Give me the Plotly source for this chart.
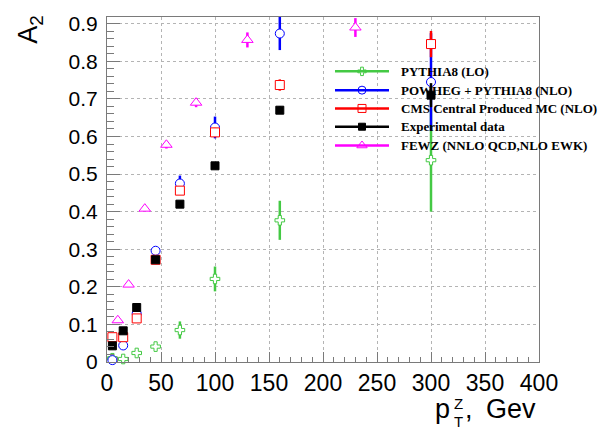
import plotly.graph_objects as go

# pT(Z) bin centres and A2 values per prediction / measurement
pt_bins = [5, 15, 27.5, 45, 67.5, 100, 160, 300]

pythia_a2 = [0.010, 0.008, 0.024, 0.041, 0.085, 0.221, 0.377, 0.537]
pythia_err = [0.003, 0.003, 0.004, 0.012, 0.023, 0.033, 0.052, 0.137]

powheg_a2 = [0.005, 0.044, 0.129, 0.296, 0.475, 0.624, 0.874, 0.745]
powheg_err = [0.003, 0.004, 0.006, 0.010, 0.021, 0.029, 0.044, 0.130]

cms_mc_a2 = [0.066, 0.066, 0.116, 0.272, 0.456, 0.611, 0.737, 0.846]
cms_mc_err = [0.003, 0.003, 0.004, 0.006, 0.010, 0.012, 0.015, 0.035]

data_a2 = [0.043, 0.083, 0.145, 0.272, 0.420, 0.522, 0.670, 0.710]
data_err = [0.003, 0.003, 0.004, 0.005, 0.007, 0.008, 0.010, 0.032]

fewz_pt = [10, 20, 35, 55, 82.5, 130, 230]
fewz_a2 = [0.111, 0.206, 0.408, 0.578, 0.690, 0.857, 0.890]
fewz_err = [0.003, 0.004, 0.005, 0.010, 0.012, 0.020, 0.025]

x_ticks = [0, 50, 100, 150, 200, 250, 300, 350, 400]
y_ticks = [0, 0.1, 0.2, 0.3, 0.4, 0.5, 0.6, 0.7, 0.8, 0.9]
y_ticktext = ["0", "0.1", "0.2", "0.3", "0.4", "0.5", "0.6", "0.7", "0.8", "0.9"]

legend_labels = [
    "PYTHIA8 (LO)",
    "POWHEG + PYTHIA8 (NLO)",
    "CMS Central Produced MC (NLO)",
    "Experimental data",
    "FEWZ (NNLO QCD,NLO EWK)",
]

# page geometry (pixels)
W, H = 601, 431
L, R, T, B = 107, 62, 13, 69
PW, PH = W - L - R, H - T - B

GREEN = "#44c944"
BLUE = "#0000ff"
RED = "#ff0000"
BLACK = "#000000"
MAGENTA = "#ff00ff"
FRAME = "#7a7a7a"
SANS = "Liberation Sans, Arial, Helvetica, sans-serif"
SERIF = "Liberation Serif, Times New Roman, serif"

# marker styles: hollow markers are drawn as white-filled outlines so the
# error bars stop at the marker edge
styles = [
    dict(color=GREEN, symbol="cross", open="cross-open", size=8, fill="white"),
    dict(color=BLUE, symbol="circle", open="circle-open", size=9, fill="white"),
    dict(color=RED, symbol="square", open="square-open", size=9, fill="white"),
    dict(color=BLACK, symbol="square", open="square", size=8, fill=BLACK),
    dict(color=MAGENTA, symbol="triangle-up", open="triangle-up-open", size=10,
         fill="white"),
]
series = [
    (pt_bins, pythia_a2, pythia_err),
    (pt_bins, powheg_a2, powheg_err),
    (pt_bins, cms_mc_a2, cms_mc_err),
    (pt_bins, data_a2, data_err),
    (fewz_pt, fewz_a2, fewz_err),
]


def px_x(p):
    return (p - L) / PW


def px_y(p):
    return (H - B - p) / PH


fig = go.Figure()

for (xs, ys, es), st in zip(series, styles):
    fig.add_trace(go.Scatter(
        x=xs, y=ys, mode="markers", showlegend=False, cliponaxis=False,
        error_y=dict(type="data", array=es, visible=True, width=0,
                     thickness=2.5, color=st["color"]),
        marker=dict(symbol=st["symbol"], size=st["size"], color=st["fill"],
                    line=dict(color=st["color"], width=1)),
    ))

# legend: line samples with markers on a pixel-unit overlay axis
leg_x0, leg_x1, leg_xm, leg_text_x = 335, 389, 362, 399
leg_rows = [68, 87, 105.5, 124, 143]
for lab, row, st in zip(legend_labels, leg_rows, styles):
    fig.add_trace(go.Scatter(
        x=[leg_x0, leg_x1], y=[row, row], mode="lines", xaxis="x2", yaxis="y2",
        showlegend=False, line=dict(color=st["color"], width=2.5),
        hoverinfo="skip",
    ))
    fig.add_trace(go.Scatter(
        x=[leg_xm], y=[row], mode="markers", xaxis="x2", yaxis="y2",
        showlegend=False, cliponaxis=False,
        marker=dict(symbol=st["open"], size=st["size"] - 1, color=st["color"],
                    line=dict(color=st["color"], width=1)),
        hoverinfo="skip",
    ))
    fig.add_annotation(
        x=px_x(leg_text_x), y=px_y(row), xref="paper", yref="paper",
        text=f"<b>{lab}</b>", showarrow=False, xanchor="left", yanchor="middle",
        font=dict(family=SERIF, size=13, color="black"),
    )

# white legend box above the grid, below the graphs
fig.add_shape(type="rect", xref="paper", yref="paper", layer="between",
              x0=px_x(330), x1=1.0, y0=px_y(155), y1=px_y(56),
              fillcolor="white", line=dict(width=0))

# axis titles
fig.add_annotation(x=px_x(30), y=px_y(26), xref="paper", yref="paper",
                   text="A<sub>2</sub>", textangle=-90, showarrow=False,
                   xanchor="center", yanchor="middle",
                   font=dict(family=SANS, size=27, color="black"))
fig.add_annotation(x=px_x(452), y=px_y(410), xref="paper", yref="paper",
                   text="p", showarrow=False, xanchor="right", yanchor="middle",
                   font=dict(family=SANS, size=27, color="black"))
fig.add_annotation(x=px_x(452), y=px_y(404), xref="paper", yref="paper",
                   text="Z", showarrow=False, xanchor="left", yanchor="middle",
                   font=dict(family=SANS, size=15, color="black"))
fig.add_annotation(x=px_x(452), y=px_y(422), xref="paper", yref="paper",
                   text="T", showarrow=False, xanchor="left", yanchor="middle",
                   font=dict(family=SANS, size=15, color="black"))
fig.add_annotation(x=px_x(463), y=px_y(410), xref="paper", yref="paper",
                   text=",", showarrow=False, xanchor="left", yanchor="middle",
                   font=dict(family=SANS, size=27, color="black"))
fig.add_annotation(x=px_x(538), y=px_y(410), xref="paper", yref="paper",
                   text="Gev", showarrow=False, xanchor="right", yanchor="middle",
                   font=dict(family=SANS, size=27, color="black"))

grid = dict(showgrid=True, gridcolor="#b4b4b4", gridwidth=1, griddash="3px,3px")

fig.update_layout(
    width=W, height=H,
    margin=dict(l=L, r=R, t=T, b=B, pad=0),
    paper_bgcolor="white", plot_bgcolor="white",
    showlegend=False,
    xaxis=dict(
        range=[0, 400], tickvals=x_ticks, ticks="inside", ticklen=10,
        tickcolor=FRAME, tickwidth=1, showline=True, linecolor=FRAME,
        linewidth=1, mirror=True, zeroline=False,
        tickfont=dict(family=SANS, size=23, color="black"),
        minor=dict(ticks="inside", ticklen=5, dtick=10, tickcolor=FRAME,
                   showgrid=False),
        **grid,
    ),
    yaxis=dict(
        range=[0, 0.918], tickvals=y_ticks, ticktext=y_ticktext,
        ticks="inside", ticklen=13, tickcolor=FRAME, tickwidth=1,
        showline=True, linecolor=FRAME, linewidth=1, mirror=True,
        zeroline=False, ticklabelstandoff=4,
        tickfont=dict(family=SANS, size=21, color="black"),
        minor=dict(ticks="inside", ticklen=7, dtick=0.02, tickcolor=FRAME,
                   showgrid=False),
        **grid,
    ),
    xaxis2=dict(range=[L, W - R], overlaying="x", visible=False,
                fixedrange=True),
    yaxis2=dict(range=[H - B, T], overlaying="y", visible=False,
                fixedrange=True, autorange=False),
)

fig.write_html("out.html")
